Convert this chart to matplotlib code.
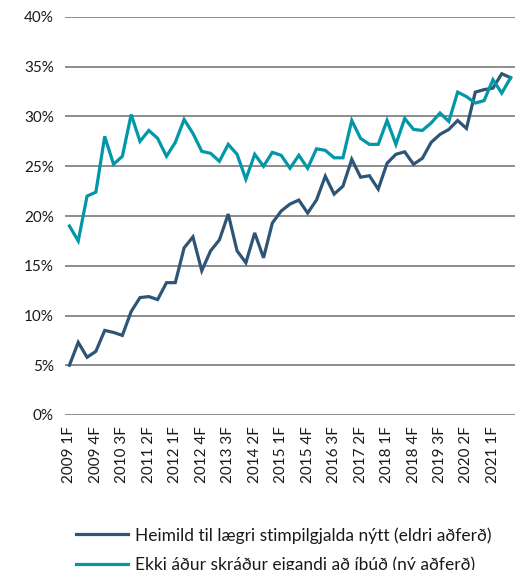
import numpy as np
from matplotlib import pyplot as plt

# quarterly series, 2009 1F .. 2021 3F
start_year = 2009
n_quarters = 51

eldri = [5.0, 7.3, 5.8, 6.4, 8.5, 8.3, 8.0, 10.4, 11.8, 11.9,
         11.6, 13.3, 13.3, 16.8, 17.9, 14.5, 16.5, 17.6, 20.2, 16.5,
         15.3, 18.3, 15.8, 19.3, 20.5, 21.2, 21.6, 20.3, 21.6, 24.0,
         22.2, 23.0, 25.7, 23.9, 24.05, 22.7, 25.3, 26.2, 26.45, 25.2,
         25.8, 27.4, 28.2, 28.7, 29.6, 28.8, 32.45, 32.7, 32.85, 34.3,
         33.9]
ny = [19.0, 17.5, 22.0, 22.4, 28.0, 25.2, 26.0, 30.2, 27.5, 28.6,
      27.8, 26.0, 27.4, 29.7, 28.3, 26.5, 26.3, 25.5, 27.2, 26.2,
      23.7, 26.2, 25.0, 26.4, 26.1, 24.8, 26.1, 24.8, 26.75, 26.6,
      25.85, 25.85, 29.6, 27.8, 27.2, 27.2, 29.6, 27.2, 29.8, 28.7,
      28.6, 29.35, 30.35, 29.5, 32.45, 32.0, 31.35, 31.6, 33.7, 32.35,
      33.9]

labels = [f'{start_year + q // 4} {q % 4 + 1}F' for q in range(n_quarters)]
y_ticks = [0, 5, 10, 15, 20, 25, 30, 35, 40]

plt.rcParams['font.family'] = ['Lato', 'DejaVu Sans']

fig = plt.figure(figsize=(5.19, 5.70), dpi=100)
ax = fig.add_axes([65 / 519, 155 / 570, 450 / 519, 398 / 570])

x = np.arange(n_quarters)
ax.plot(x, eldri, color='#2f5576', linewidth=2.3, solid_joinstyle='miter',
        label='Heimild til lægri stimpilgjalda nýtt (eldri aðferð)')
ax.plot(x, ny, color='#0097a7', linewidth=2.3, solid_joinstyle='miter',
        label='Ekki áður skráður eigandi að íbúð (ný aðferð)')

ax.set_xlim(-0.5, n_quarters - 0.5)
ax.set_ylim(0, 40)
ax.set_yticks(y_ticks)
ax.set_yticklabels([f'{v}%' for v in y_ticks], fontsize=11, color='#1a1a1a')
ax.set_xticks(x[::3])
ax.set_xticklabels(labels[::3], rotation=90, fontsize=11, color='#1a1a1a')
ax.tick_params(length=0, pad=8)

ax.grid(axis='y', color='#8c8c8c', linewidth=1.4)
ax.set_axisbelow(True)
for s in ax.spines.values():
    s.set_visible(False)

leg = fig.legend(loc='upper left', bbox_to_anchor=(76 / 519, 1 - 527 / 570),
                 frameon=False, fontsize=12.5, handlelength=3.0, handletextpad=0.4,
                 labelspacing=0.72, borderaxespad=0, borderpad=0)
for t in leg.get_texts():
    t.set_color('#1a1a1a')

fig.savefig('out.png', dpi=100)
